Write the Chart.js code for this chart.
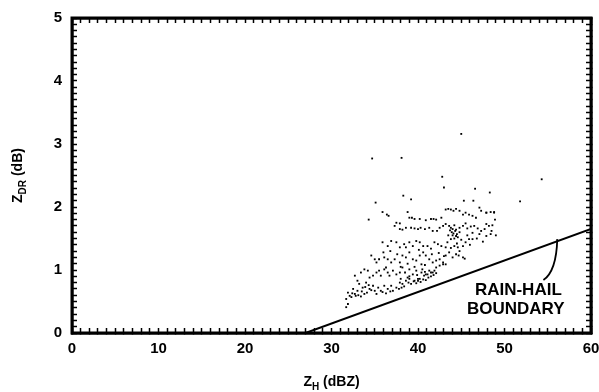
<!DOCTYPE html>
<html>
<head>
<meta charset="utf-8">
<script src="https://cdn.jsdelivr.net/npm/chart.js@4"></script>
<style>
    html, body { margin: 0; padding: 0; background: #fff; }
    #wrap { width: 599px; height: 392px; position: relative; }
</style>
</head>
<body>
<div id="wrap"><canvas id="chart"></canvas></div>
<script>
// Z_H (dBZ) of each observation, grouped in bands from top to bottom
const zh = [
    35.9, 36.4, 36.6, 37.5, 37.9, 38.8, 39.0, 39.3, 39.6, 40.2, 40.9, 41.5, 41.8, 42.1, 42.7, 43.2, 43.5, 43.8, 44.1, 44.4, 44.8, 45.2, 45.5, 45.9, 46.3, 46.7, 47.1, 47.3, 47.9, 48.4, 48.8,
    37.3, 37.9, 38.2, 38.6, 39.2, 39.6, 40.0, 40.3, 40.8, 41.3, 41.7, 42.2, 42.5, 42.9, 43.2, 43.6, 43.8, 44.0, 44.2, 44.4, 44.8, 45.2, 45.5, 45.7, 46.1, 46.5, 46.9, 47.3, 47.9, 48.2, 48.6, 48.4, 47.9, 47.1, 46.3,
    35.9, 36.5, 36.9, 37.5, 37.9, 38.4, 38.6, 39.0, 39.4, 39.8, 40.2, 40.6, 41.1, 41.5, 41.9, 42.3, 42.7, 43.2, 43.4, 43.8, 44.2, 44.4, 44.6, 44.8, 45.2, 45.5, 45.9, 46.3,
    34.6, 35.0, 35.2, 35.5, 36.1, 36.5, 36.9, 37.3, 37.9, 38.2, 38.6, 39.0, 39.4, 39.8, 40.2, 40.4, 40.6, 40.9, 41.3, 41.7, 42.1, 42.5, 42.9, 43.2, 43.6, 44.0, 44.4, 44.7, 45.2, 45.4,
    32.7, 33.0, 33.4, 33.8, 34.2, 34.4, 34.8, 35.2, 35.5, 35.7, 36.1, 36.3, 36.5, 36.7, 37.1, 37.5, 37.9, 38.0, 38.2, 38.5, 38.8, 39.0, 39.4, 39.8, 40.0, 40.4, 40.5, 40.9, 41.3, 41.7, 42.1, 42.5, 42.9, 43.2,
    31.9, 32.1, 32.5, 32.7, 33.0, 33.2, 33.6, 33.8, 34.0, 34.4, 34.8, 35.0, 35.4, 35.7, 36.1, 36.5, 36.9, 37.1, 37.5, 37.9, 38.2, 38.6, 39.0, 39.6, 40.2, 40.7, 41.1, 41.5, 41.9,
    31.7, 31.9, 32.3, 32.8, 33.4, 31.7,
    34.7, 38.1, 45.0, 42.8, 43.0, 46.6, 48.3, 38.3, 54.3, 51.8, 35.1, 39.2, 34.3, 45.3, 46.4, 48.8, 47.9,
    43.9, 44.1, 44.3, 44.0, 44.5, 43.7, 44.6, 44.2, 43.5, 44.8,
    38.9, 39.2, 39.5, 39.8, 40.0, 40.3, 40.6, 40.9, 41.2, 41.5, 41.8, 42.1, 38.4, 37.8, 38.1, 39.0, 39.9, 40.8,
    32.4, 33.1, 33.5, 34.1, 34.6, 35.2, 35.9, 36.3, 36.8, 33.9, 34.3,
    36.0, 36.8, 37.6, 38.0, 38.8, 39.6, 40.1, 40.8, 41.6, 42.4, 43.0, 43.8, 44.5, 45.0, 45.7, 46.0, 46.8, 47.5, 47.7, 48.5, 48.9, 49.0
];

// Z_DR (dB), same order as zh
const zdr = [
    1.92, 1.88, 1.86, 1.75, 1.74, 1.92, 1.83, 1.83, 1.81, 1.81, 1.79, 1.81, 1.81, 1.80, 1.83, 1.96, 1.97, 1.96, 1.94, 1.97, 1.94, 1.88, 1.91, 1.88, 1.86, 1.83, 1.99, 1.94, 1.91, 1.92, 1.92,
    1.70, 1.65, 1.64, 1.67, 1.67, 1.66, 1.65, 1.67, 1.65, 1.67, 1.62, 1.62, 1.67, 1.70, 1.73, 1.70, 1.67, 1.65, 1.71, 1.64, 1.67, 1.70, 1.74, 1.66, 1.69, 1.70, 1.66, 1.62, 1.73, 1.70, 1.71, 1.57, 1.54, 1.57, 1.59,
    1.44, 1.38, 1.46, 1.44, 1.36, 1.41, 1.36, 1.44, 1.38, 1.46, 1.44, 1.38, 1.38, 1.34, 1.44, 1.41, 1.38, 1.36, 1.44, 1.49, 1.38, 1.54, 1.36, 1.30, 1.38, 1.44, 1.49, 1.49,
    1.23, 1.17, 1.12, 1.17, 1.20, 1.17, 1.12, 1.17, 1.12, 1.23, 1.20, 1.28, 1.17, 1.15, 1.23, 1.09, 1.28, 1.23, 1.17, 1.12, 1.15, 1.17, 1.12, 1.23, 1.28, 1.20, 1.25, 1.23, 1.20, 1.18,
    0.91, 0.83, 0.96, 1.01, 0.99, 0.88, 0.91, 0.96, 0.99, 0.91, 1.01, 1.04, 0.96, 0.91, 0.99, 0.93, 0.96, 0.86, 1.04, 0.96, 0.88, 1.01, 0.93, 0.99, 0.86, 0.96, 1.01, 0.93, 0.99, 0.96, 1.04, 1.07, 1.09, 1.09,
    0.64, 0.59, 0.70, 0.62, 0.67, 0.78, 0.72, 0.62, 0.80, 0.70, 0.75, 0.67, 0.72, 0.67, 0.75, 0.70, 0.75, 0.67, 0.72, 0.80, 0.78, 0.83, 0.86, 0.83, 0.86, 0.91, 0.93, 0.96, 0.99,
    0.54, 0.46, 0.57, 0.59, 0.58, 0.41,
    2.77, 2.78, 3.16, 2.48, 2.31, 2.29, 2.23, 2.18, 2.44, 2.09, 2.07, 2.12, 1.80, 2.10, 2.10, 1.91, 1.91,
    1.60, 1.58, 1.62, 1.55, 1.57, 1.63, 1.52, 1.50, 1.55, 1.60,
    0.80, 0.78, 0.82, 0.79, 0.83, 0.81, 0.85, 0.84, 0.88, 0.90, 0.92, 0.95, 0.74, 0.70, 0.72, 0.90, 0.92, 0.97,
    0.63, 0.60, 0.66, 0.64, 0.68, 0.62, 0.65, 0.63, 0.66, 0.73, 0.76,
    1.28, 1.30, 1.25, 1.05, 1.10, 1.05, 1.32, 1.08, 1.25, 1.27, 1.22, 1.35, 1.42, 1.48, 1.55, 1.40, 1.50, 1.45, 1.65, 1.62, 1.80, 1.55
];

// rain-hail boundary line end points
const boundaryZh = [27, 60];
const boundaryZdr = [0, 1.65];

// labelled ticks
const xTicks = [0, 10, 20, 30, 40, 50, 60];
const yTicks = [0, 1, 2, 3, 4, 5];

const FONT = 'Arial, "Liberation Sans", Helvetica, sans-serif';

const points = zh.map((x, i) => ({ x: x, y: zdr[i] }));
const boundary = boundaryZh.map((x, i) => ({ x: x, y: boundaryZdr[i] }));

// minor tick positions: every 1 dBZ and every 0.1 dB
const xMinor = Array.from({ length: 61 }, (_, i) => i);
const yMinor = Array.from({ length: 51 }, (_, i) => i / 10);

const isMajor = (list, v) => list.some(t => Math.abs(t - v) < 1e-6);

// shared look of the four frame axes: border plus short inward ticks
const frameAxis = (extra) => Object.assign({
    type: 'linear',
    grid: {
        display: true,
        drawOnChartArea: false,
        drawTicks: true,
        tickLength: -5,
        tickWidth: 1.5,
        tickColor: '#000',
        color: '#000'
    },
    border: { display: true, color: '#000', width: 2.5 }
}, extra);

// axis titles and the boundary label
const labelPlugin = {
    id: 'plotLabels',
    afterDraw: (chart) => {
        const ctx = chart.ctx;
        const xs = chart.scales.x;
        const ys = chart.scales.y;
        const a = chart.chartArea;
        ctx.save();
        ctx.fillStyle = '#000';
        ctx.strokeStyle = '#000';

        // leader from boundary to its label
        ctx.lineWidth = 1.8;
        ctx.beginPath();
        ctx.moveTo(xs.getPixelForValue(56.1), ys.getPixelForValue(1.49));
        ctx.quadraticCurveTo(xs.getPixelForValue(56.0), ys.getPixelForValue(0.98),
            xs.getPixelForValue(54.5), ys.getPixelForValue(0.84));
        ctx.stroke();

        ctx.textAlign = 'center';
        ctx.textBaseline = 'middle';
        ctx.font = 'bold 17px ' + FONT;
        ctx.fillText('RAIN-HAIL', xs.getPixelForValue(51.6), ys.getPixelForValue(0.68));
        ctx.fillText('BOUNDARY', xs.getPixelForValue(51.3), ys.getPixelForValue(0.37));

        const drawTitle = (parts, cx, cy) => {
            let total = 0;
            parts.forEach(p => {
                ctx.font = 'bold ' + p.size + 'px ' + FONT;
                total += ctx.measureText(p.text).width;
            });
            let x = cx - total / 2;
            ctx.textAlign = 'left';
            ctx.textBaseline = 'alphabetic';
            parts.forEach(p => {
                ctx.font = 'bold ' + p.size + 'px ' + FONT;
                ctx.fillText(p.text, x, cy + p.dy);
                x += ctx.measureText(p.text).width;
            });
        };

        drawTitle([
            { text: 'Z', size: 14, dy: 0 },
            { text: 'H', size: 10, dy: 4 },
            { text: ' (dBZ)', size: 14, dy: 0 }
        ], (a.left + a.right) / 2, 386);

        ctx.save();
        ctx.translate(22, (a.top + a.bottom) / 2);
        ctx.rotate(-Math.PI / 2);
        drawTitle([
            { text: 'Z', size: 14, dy: 0 },
            { text: 'DR', size: 10, dy: 4 },
            { text: ' (dB)', size: 14, dy: 0 }
        ], 0, 0);
        ctx.restore();

        // frame outline on top of everything
        ctx.lineWidth = 3;
        ctx.beginPath();
        ctx.moveTo(a.left, a.top);
        ctx.lineTo(a.right, a.top);
        ctx.lineTo(a.right, a.bottom);
        ctx.lineTo(a.left, a.bottom);
        ctx.closePath();
        ctx.stroke();

        ctx.restore();
    }
};

new Chart(document.getElementById('chart'), {
    type: 'scatter',
    data: {
        datasets: [
            {
                label: 'observations',
                data: points,
                pointRadius: 1.3,
                pointStyle: 'rect',
                backgroundColor: '#000',
                borderWidth: 0
            },
            {
                type: 'line',
                label: 'boundary',
                data: boundary,
                borderColor: '#000',
                borderWidth: 2,
                pointRadius: 0,
                fill: false
            }
        ]
    },
    options: {
        responsive: true,
        maintainAspectRatio: false,
        animation: false,
        devicePixelRatio: 1,
        layout: { padding: { left: 0, right: 8, top: 18, bottom: 0 } },
        plugins: {
            legend: { display: false },
            tooltip: { enabled: false }
        },
        scales: {
            x: frameAxis({
                position: 'bottom',
                min: 0,
                max: 60,
                afterBuildTicks: (s) => { s.ticks = xMinor.map(v => ({ value: v })); },
                afterFit: (s) => { s.height = 59; s.paddingLeft = 0; s.paddingRight = 0; },
                ticks: {
                    autoSkip: false,
                    color: '#000',
                    padding: 12,
                    maxRotation: 0,
                    font: { family: FONT, size: 15, weight: 'bold' },
                    callback: (v) => isMajor(xTicks, v) ? String(v) : ''
                }
            }),
            y: frameAxis({
                position: 'left',
                min: 0,
                max: 5,
                afterBuildTicks: (s) => { s.ticks = yMinor.map(v => ({ value: v })); },
                afterFit: (s) => { s.width = 72; s.paddingTop = 0; s.paddingBottom = 0; },
                ticks: {
                    autoSkip: false,
                    color: '#000',
                    padding: 15,
                    font: { family: FONT, size: 15, weight: 'bold' },
                    callback: (v) => isMajor(yTicks, v) ? String(Math.round(v)) : ''
                }
            }),
            xTop: frameAxis({
                position: 'top',
                min: 0,
                max: 60,
                afterBuildTicks: (s) => { s.ticks = xMinor.map(v => ({ value: v })); },
                afterFit: (s) => { s.height = 0; s.paddingLeft = 0; s.paddingRight = 0; },
                ticks: { display: false }
            }),
            yRight: frameAxis({
                position: 'right',
                min: 0,
                max: 5,
                afterBuildTicks: (s) => { s.ticks = yMinor.map(v => ({ value: v })); },
                afterFit: (s) => { s.width = 0; s.paddingTop = 0; s.paddingBottom = 0; },
                ticks: { display: false }
            })
        }
    },
    plugins: [labelPlugin]
});
</script>
</body>
</html>
